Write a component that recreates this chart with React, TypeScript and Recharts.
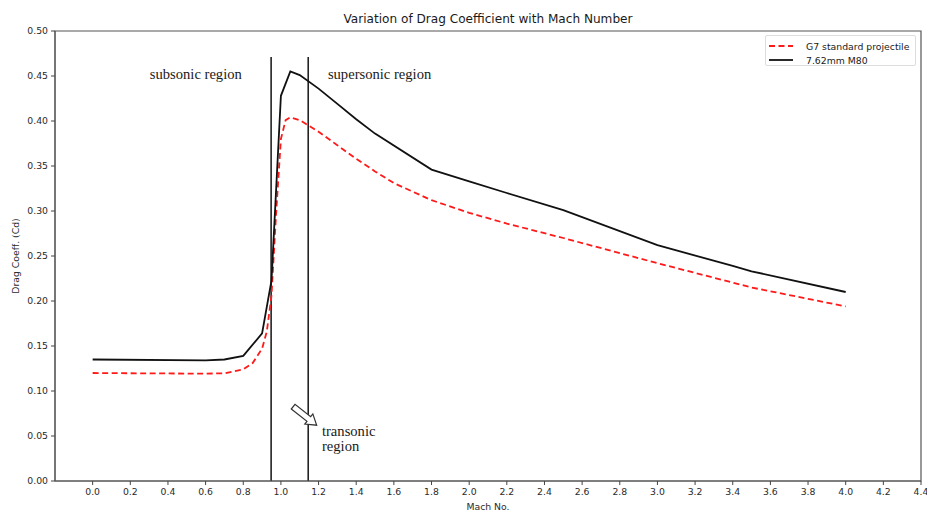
import React from 'react';
import { LineChart, Line, XAxis, YAxis, ReferenceLine, ReferenceDot, ReferenceArea } from 'recharts';

// G7 standard projectile (red dashed)
const g7Mach = [0, 0.2, 0.4, 0.6, 0.7, 0.8, 0.85, 0.9, 0.925, 0.95, 0.975, 1.0, 1.025, 1.05, 1.1, 1.2, 1.3, 1.4, 1.5, 1.6, 1.8, 2.0, 2.2, 2.5, 3.0, 3.5, 4.0];
const g7Cd = [0.120, 0.1197, 0.1195, 0.1193, 0.1197, 0.124, 0.131, 0.147, 0.166, 0.206, 0.299, 0.380, 0.401, 0.404, 0.401, 0.388, 0.373, 0.358, 0.344, 0.331, 0.312, 0.298, 0.286, 0.270, 0.242, 0.215, 0.194];

// 7.62mm M80 (black solid)
const m80Mach = [0, 0.6, 0.7, 0.8, 0.9, 0.95, 1.0, 1.05, 1.1, 1.2, 1.3, 1.4, 1.5, 1.8, 2.0, 2.2, 2.5, 3.0, 3.4, 3.5, 4.0];
const m80Cd = [0.135, 0.134, 0.135, 0.139, 0.164, 0.223, 0.428, 0.455, 0.451, 0.436, 0.419, 0.402, 0.386, 0.346, 0.333, 0.320, 0.301, 0.262, 0.239, 0.233, 0.210];

const xTicks = [0, 0.2, 0.4, 0.6, 0.8, 1.0, 1.2, 1.4, 1.6, 1.8, 2.0, 2.2, 2.4, 2.6, 2.8, 3.0, 3.2, 3.4, 3.6, 3.8, 4.0, 4.2, 4.4];
const yTicks = [0, 0.05, 0.1, 0.15, 0.2, 0.25, 0.3, 0.35, 0.4, 0.45, 0.5];

const regionBounds = [0.948, 1.145];
const regionTop = 0.471;

const g7Data = g7Mach.map((m, i) => ({ mach: m, cd: g7Cd[i] }));
const m80Data = m80Mach.map((m, i) => ({ mach: m, cd: m80Cd[i] }));

const FONT = '"DejaVu Sans", sans-serif';
const SERIF = '"Liberation Serif", serif';

const serifText = (label: string, anchor: 'start' | 'middle') => (p: any) => (
  <text x={p.cx} y={p.cy} dy="0.35em" textAnchor={anchor} fontFamily={SERIF} fontSize={14.6} fill="#1a1a1a">
    {label}
  </text>
);

const arrowShape = (p: any) => {
  const { x1, y1, x2, y2 } = p;
  const dx = x2 - x1;
  const dy = y2 - y1;
  const L = Math.hypot(dx, dy) || 1;
  const ux = dx / L, uy = dy / L;
  const nx = -uy, ny = ux;
  const hw = 3, HW = 6.5, hl = 10;
  const kx = x2 - ux * hl, ky = y2 - uy * hl;
  const pts = [
    [x1 + nx * hw, y1 + ny * hw],
    [kx + nx * hw, ky + ny * hw],
    [kx + nx * HW, ky + ny * HW],
    [x2, y2],
    [kx - nx * HW, ky - ny * HW],
    [kx - nx * hw, ky - ny * hw],
    [x1 - nx * hw, y1 - ny * hw],
  ].map((q) => q.join(',')).join(' ');
  return <polygon points={pts} fill="#fff" stroke="#333" strokeWidth={1.2} />;
};

export default function App() {
  return (
    <div style={{ position: 'absolute', left: 0, top: 0, width: 927, height: 512, background: '#fff', fontFamily: FONT }}>
      <LineChart width={927} height={512} margin={{ top: 31, right: 6, bottom: 1, left: 10 }}>
        <XAxis
          dataKey="mach"
          type="number"
          domain={[-0.2, 4.4]}
          ticks={xTicks}
          allowDataOverflow
          tickFormatter={(v: number) => v.toFixed(1)}
          tick={{ fontSize: 9.3, fill: '#2a2a2a', fontFamily: FONT }}
          tickLine={{ stroke: '#444' }}
          axisLine={{ stroke: '#555' }}
          tickSize={4}
          tickMargin={3}
          height={30}
        />
        <YAxis
          type="number"
          domain={[0, 0.5]}
          ticks={yTicks}
          allowDataOverflow
          tickFormatter={(v: number) => v.toFixed(2)}
          tick={{ fontSize: 9.3, fill: '#2a2a2a', fontFamily: FONT }}
          tickLine={{ stroke: '#444' }}
          axisLine={{ stroke: '#555' }}
          tickSize={4}
          tickMargin={3}
          width={45}
        />
        <ReferenceArea x1={-0.2} x2={4.4} y1={0} y2={0.5} fill="none" fillOpacity={0} stroke="#555" strokeWidth={1.2} ifOverflow="visible" />
        {regionBounds.map((b) => (
          <ReferenceLine
            key={b}
            segment={[{ x: b, y: 0 }, { x: b, y: regionTop }]}
            stroke="#222"
            strokeWidth={1.6}
            ifOverflow="visible"
          />
        ))}
        <Line data={g7Data} dataKey="cd" stroke="#ff1a1a" strokeWidth={1.8} strokeDasharray="6 3.5" dot={false} isAnimationActive={false} name="G7 standard projectile" />
        <Line data={m80Data} dataKey="cd" stroke="#111" strokeWidth={1.8} dot={false} isAnimationActive={false} name="7.62mm M80" />
        <ReferenceDot x={0.548} y={0.452} r={0} shape={serifText('subsonic region', 'middle')} ifOverflow="visible" />
        <ReferenceDot x={1.524} y={0.452} r={0} shape={serifText('supersonic region', 'middle')} ifOverflow="visible" />
        <ReferenceDot x={1.218} y={0.0556} r={0} shape={serifText('transonic', 'start')} ifOverflow="visible" />
        <ReferenceDot x={1.218} y={0.039} r={0} shape={serifText('region', 'start')} ifOverflow="visible" />
        <ReferenceLine segment={[{ x: 1.065, y: 0.0826 }, { x: 1.19, y: 0.062 }]} shape={arrowShape} ifOverflow="visible" />
      </LineChart>

      <div style={{ position: 'absolute', left: 488, top: 12, transform: 'translateX(-50%)', whiteSpace: 'nowrap', fontSize: 12.1, lineHeight: '14px', color: '#1a1a1a' }}>
        Variation of Drag Coefficient with Mach Number
      </div>
      <div style={{ position: 'absolute', left: 488, top: 501, transform: 'translateX(-50%)', whiteSpace: 'nowrap', fontSize: 9.3, lineHeight: '11px', color: '#2a2a2a' }}>
        Mach No.
      </div>
      <div style={{ position: 'absolute', left: 15, top: 256, transform: 'translate(-50%, -50%) rotate(-90deg)', whiteSpace: 'nowrap', fontSize: 9.3, lineHeight: '11px', color: '#2a2a2a' }}>
        Drag Coeff. (Cd)
      </div>

      <div style={{ position: 'absolute', left: 765, top: 35, width: 151, height: 31, border: '1px solid #ddd', borderRadius: 2, background: '#fff', boxSizing: 'border-box', fontSize: 9.3, color: '#1a1a1a' }}>
        <div style={{ position: 'absolute', left: 3, top: 3, height: 14, display: 'flex', alignItems: 'center', whiteSpace: 'nowrap' }}>
          <svg width={24} height={4} style={{ marginRight: 13 }}>
            <line x1={0} y1={2} x2={24} y2={2} stroke="#ff1a1a" strokeWidth={1.8} strokeDasharray="6 3.5" />
          </svg>
          G7 standard projectile
        </div>
        <div style={{ position: 'absolute', left: 3, top: 17, height: 14, display: 'flex', alignItems: 'center', whiteSpace: 'nowrap' }}>
          <svg width={24} height={4} style={{ marginRight: 13 }}>
            <line x1={0} y1={2} x2={24} y2={2} stroke="#111" strokeWidth={1.8} />
          </svg>
          7.62mm M80
        </div>
      </div>
    </div>
  );
}
